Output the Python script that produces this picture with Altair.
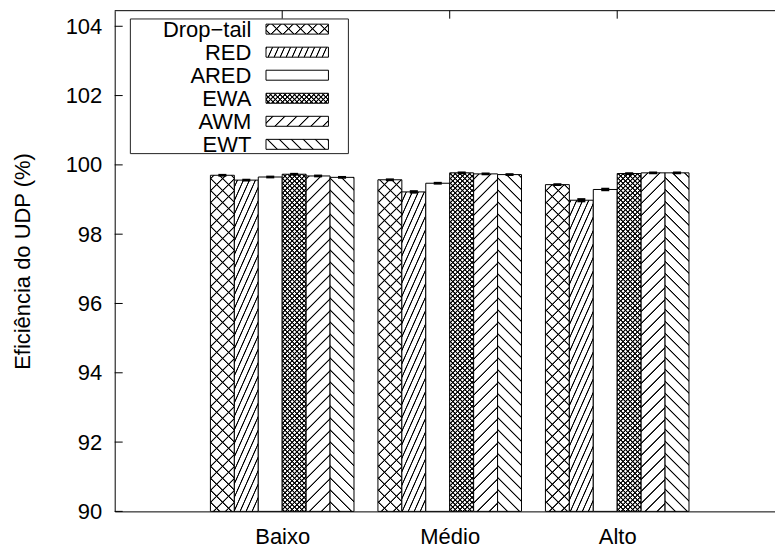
import json
import math
import altair as alt

# ---- data -------------------------------------------------------------
levels = ["Baixo", "Médio", "Alto"]
series = ["Drop−tail", "RED", "ARED", "EWA", "AWM", "EWT"]

eff_baixo = [99.70, 99.56, 99.65, 99.73, 99.68, 99.64]
eff_medio = [99.57, 99.22, 99.47, 99.77, 99.74, 99.72]
eff_alto = [99.43, 98.98, 99.29, 99.75, 99.77, 99.77]

err_baixo = [0.04, 0.04, 0.04, 0.04, 0.04, 0.04]
err_medio = [0.04, 0.05, 0.04, 0.04, 0.04, 0.04]
err_alto = [0.04, 0.06, 0.05, 0.04, 0.04, 0.04]

y_ticks = [90, 92, 94, 96, 98, 100, 102, 104]

# hatch per series: list of (line angle in degrees, spacing in px)
hatch = {
    "Drop−tail": [(45, 8.5), (135, 8.5)],
    "RED": [(66, 5.5)],
    "ARED": [],
    "EWA": [(45, 3.4), (135, 3.4)],
    "AWM": [(45, 8.5)],
    "EWT": [(135, 8.5)],
}

# ---- geometry of the plot area ---------------------------------------
W, H = 662, 502
X_DOM = [-1, 2.942]
Y_DOM = [90, 104.45]
SLOT = 1 / 7  # six bars plus one empty slot per group
FONT = "Liberation Sans"


def px(x):
    return (x - X_DOM[0]) / (X_DOM[1] - X_DOM[0]) * W


def py(y):
    return H - (y - Y_DOM[0]) / (Y_DOM[1] - Y_DOM[0]) * H


def stripes(X0, Y0, w, h, angle, period, bg, core=0.55, ramp=0.6):
    """Linear gradient that paints parallel hatch lines inside a box."""
    a = math.radians(angle)
    nx, ny = math.sin(a), math.cos(a)
    corners = [(u, v, nx * (X0 + u * w) + ny * (Y0 + v * h))
               for u in (0, 1) for v in (0, 1)]
    u0, v0, smin = min(corners, key=lambda c: c[2])
    smax = max(c[2] for c in corners)
    S = smax - smin
    A, B = nx * w / S, ny * h / S
    den = A * A + B * B
    stops = []
    k0 = math.floor((smin - core - ramp) / period)
    k1 = math.ceil((smax + core + ramp) / period)
    for k in range(k0, k1 + 1):
        c = k * period
        for off, col in ((c - core / 2 - ramp, bg), (c - core / 2, "black"),
                         (c + core / 2, "black"), (c + core / 2 + ramp, bg)):
            o = min(max((off - smin) / S, 0.0), 1.0)
            stops.append({"offset": round(o, 5), "color": col})
    return {"gradient": "linear", "x1": u0, "y1": v0,
            "x2": round(u0 + A / den, 6), "y2": round(v0 + B / den, 6),
            "stops": stops}


def fills(name, X0, Y0, w, h):
    pats = hatch[name]
    first = stripes(X0, Y0, w, h, *pats[0], "white") if pats else "white"
    second = (stripes(X0, Y0, w, h, *pats[1], "rgba(0,0,0,0)")
              if len(pats) > 1 else None)
    return first, second


values = [eff_baixo, eff_medio, eff_alto]
errors = [err_baixo, err_medio, err_alto]

bars, overlay = [], []
for gi, lvl in enumerate(levels):
    for si, name in enumerate(series):
        v = values[gi][si]
        x0 = gi + (si - 3) * SLOT
        x1 = x0 + SLOT
        X0, Y0 = px(x0), py(v)
        g1, g2 = fills(name, X0, Y0, px(x1) - X0, H - Y0)
        row = {"level": lvl, "series": name, "v": v, "e": errors[gi][si],
               "x0": x0, "x1": x1, "xc": (x0 + x1) / 2, "g1": g1}
        bars.append(row)
        if g2 is not None:
            overlay.append({**row, "g2": g2})

# ---- scales & axes ----------------------------------------------------
xsc = alt.Scale(domain=X_DOM, nice=False, zero=False)
ysc = alt.Scale(domain=Y_DOM, nice=False, zero=False)

label_expr = json.dumps(levels, ensure_ascii=False) + "[datum.value]"
xaxis = alt.Axis(values=[0, 1, 2], labelExpr=label_expr, title=None,
                 ticks=False, tickSize=0, labelPadding=15, labelFlush=False,
                 labelFont=FONT, labelFontSize=22, labelColor="black",
                 domainColor="black", domainWidth=1, grid=False)
yaxis = alt.Axis(values=y_ticks, title="Eficiência do UDP (%)",
                 ticks=False, tickSize=0, labelPadding=13,
                 labelFont=FONT, labelFontSize=22, labelColor="black",
                 titleFont=FONT, titleFontSize=22, titleFontWeight="normal",
                 titleColor="black", titlePadding=31,
                 domainColor="black", domainWidth=1, grid=False)

# ---- bars ---------------------------------------------------------------
bar_layer = alt.Chart(alt.Data(values=bars)).mark_rect(
    stroke="black", strokeWidth=1
).encode(
    x=alt.X("x0:Q", scale=xsc, axis=xaxis),
    x2="x1:Q",
    y=alt.Y("v:Q", scale=ysc, axis=yaxis),
    y2=alt.datum(Y_DOM[0]),
    fill=alt.Fill("g1:N", scale=None, legend=None),
)

cross_layer = alt.Chart(alt.Data(values=overlay)).mark_rect(
    strokeWidth=0
).encode(
    x=alt.X("x0:Q", scale=xsc, axis=xaxis),
    x2="x1:Q",
    y=alt.Y("v:Q", scale=ysc, axis=yaxis),
    y2=alt.datum(Y_DOM[0]),
    fill=alt.Fill("g2:N", scale=None, legend=None),
)

err_layer = alt.Chart(alt.Data(values=bars)).transform_calculate(
    ex0="datum.xc - 0.024", ex1="datum.xc + 0.024",
    elo="datum.v - datum.e", ehi="datum.v + datum.e",
).mark_rect(color="black").encode(
    x=alt.X("ex0:Q", scale=xsc, axis=xaxis),
    x2="ex1:Q",
    y=alt.Y("elo:Q", scale=ysc, axis=yaxis),
    y2="ehi:Q",
)

# inward ticks on the left edge and on the top edge
ytick_layer = alt.Chart(alt.Data(values=[{"t": t} for t in y_ticks])).mark_rule(
    color="black", strokeWidth=1
).encode(
    y=alt.Y("t:Q", scale=ysc, axis=yaxis),
    x=alt.value(0), x2=alt.value(8),
)
xtick_layer = alt.Chart(alt.Data(values=[{"gi": i} for i in range(len(levels))])).mark_rule(
    color="black", strokeWidth=1
).encode(
    x=alt.X("gi:Q", scale=xsc, axis=xaxis),
    y=alt.value(0), y2=alt.value(8),
)
top_frame = alt.Chart(alt.Data(values=[{}])).mark_rule(
    color="black", strokeWidth=1
).encode(x=alt.value(0), x2=alt.value(W), y=alt.value(0))

# ---- legend -------------------------------------------------------------
LEG_X0, LEG_X1, LEG_Y0, LEG_Y1 = 15.7, 234.3, 8.3, 143.3
SW_X0, SW_X1, SW_H = 151.7, 214.3, 10
ROW0, ROW_STEP = 18.5, 23.1

legend_layers = [
    alt.Chart(alt.Data(values=[{}])).mark_rect(
        fill="white", stroke="#222", strokeWidth=1
    ).encode(x=alt.value(LEG_X0), x2=alt.value(LEG_X1),
             y=alt.value(LEG_Y0), y2=alt.value(LEG_Y1))
]
for i, name in enumerate(series):
    yc = ROW0 + i * ROW_STEP
    g1, g2 = fills(name, SW_X0, yc - SW_H / 2, SW_X1 - SW_X0, SW_H)
    legend_layers.append(
        alt.Chart(alt.Data(values=[{"s": name}])).mark_text(
            align="right", baseline="alphabetic", font=FONT, fontSize=22,
            color="black"
        ).encode(text="s:N", x=alt.value(137), y=alt.value(yc + 7.8))
    )
    legend_layers.append(
        alt.Chart(alt.Data(values=[{"s": name}])).mark_rect(
            fill=g1, stroke="black", strokeWidth=1
        ).encode(x=alt.value(SW_X0), x2=alt.value(SW_X1),
                 y=alt.value(yc - SW_H / 2), y2=alt.value(yc + SW_H / 2))
    )
    if g2 is not None:
        legend_layers.append(
            alt.Chart(alt.Data(values=[{"s": name}])).mark_rect(
                fill=g2, strokeWidth=0
            ).encode(x=alt.value(SW_X0), x2=alt.value(SW_X1),
                     y=alt.value(yc - SW_H / 2), y2=alt.value(yc + SW_H / 2))
        )

# the plot area runs on past the right edge of the page
chart = alt.layer(
    bar_layer, cross_layer, err_layer, ytick_layer, xtick_layer, top_frame,
    *legend_layers
).properties(
    width=W, height=H,
    padding={"left": 115, "top": 10, "right": 0, "bottom": 37},
    autosize=alt.AutoSizeParams(type="none"),
).configure_view(strokeWidth=0, stroke="transparent")

chart.save("out.html", embed_options={"renderer": "svg", "actions": False})
